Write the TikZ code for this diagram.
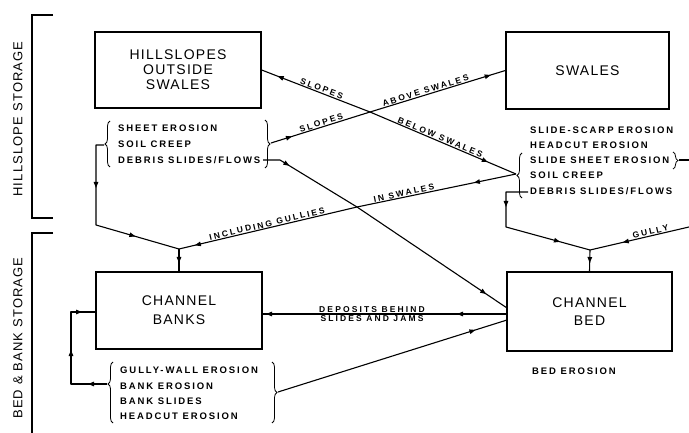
\documentclass[tikz,border=0pt]{standalone}
\usepackage{fontspec}
\setmainfont{Liberation Sans}
\newfontfamily\boxf[LetterSpace=9]{Liberation Sans}
\newfontfamily\listf[LetterSpace=20]{Liberation Sans}
\newfontfamily\labf[LetterSpace=25]{Liberation Sans}
\usetikzlibrary{arrows.meta,decorations.pathreplacing,decorations.markings}
\begin{document}
\begin{tikzpicture}[x=1pt,y=-1pt,
  box/.style={draw, line width=1.3pt, font=\boxf\fontsize{14}{15}\selectfont, align=center, inner sep=0pt},
  side/.style={font=\boxf\fontsize{13}{13}\selectfont, rotate=90, inner sep=0pt},
  item/.style={font=\listf\bfseries\fontsize{9.5}{10}\selectfont, anchor=base west, inner sep=0pt},
  lab/.style={font=\labf\bfseries\fontsize{8.5}{9}\selectfont, inner sep=1pt, sloped, above},
  flow/.style={line width=1.1pt, line join=round},
  brk/.style={line width=1.3pt},
  brc/.style={line width=0.8pt, decorate, decoration={brace, amplitude=5pt, aspect=#1}},
  brc/.default=0.5,
  arr/.style={postaction={decorate, decoration={markings, mark=at position #1 with {\arrow{Triangle[length=6pt,width=4.5pt]}}}}}
]
\useasboundingbox (0,0) rectangle (689,433);
\fill[white] (0,0) rectangle (689,433);

% storage brackets
\draw[brk] (53,15) -- (32,15) -- (32,218) -- (53,218);
\draw[brk] (53,233) -- (32,233) -- (32,433);
\node[side] (hs) at (18,119) {HILLSLOPE STORAGE};
\node[side] (bbs) at (18,338) {BED \& BANK STORAGE};

% boxes
\node[box, minimum width=166pt, minimum height=76pt] (hill) at (178,70) {HILLSLOPES\\OUTSIDE\\SWALES};
\node[box, minimum width=163pt, minimum height=77pt] (swales) at (587.5,70.5) {SWALES};
\node[box, minimum width=166pt, minimum height=77pt] (banks) at (179,310.5) {CHANNEL\\[4pt]BANKS};
\node[box, minimum width=165pt, minimum height=79pt] (bed) at (589.5,311.5) {CHANNEL\\[3pt]BED};

% lists
\node[item] (l1) at (118,131.5) {SHEET EROSION};
\node[item] (l2) at (118,147.5) {SOIL CREEP};
\node[item] (l3) at (118,163.5) {DEBRIS SLIDES/FLOWS};

\node[item] (s1) at (530,133.5) {SLIDE-SCARP EROSION};
\node[item] (s2) at (530,148.5) {HEADCUT EROSION};
\node[item] (s3) at (530,163.5) {SLIDE SHEET EROSION};
\node[item] (s4) at (530,178.5) {SOIL CREEP};
\node[item] (s5) at (530,194.5) {DEBRIS SLIDES/FLOWS};

\node[item] (b1) at (120,373.5) {GULLY-WALL EROSION};
\node[item] (b2) at (120,389.5) {BANK EROSION};
\node[item] (b3) at (120,404.5) {BANK SLIDES};
\node[item] (b4) at (120,419.5) {HEADCUT EROSION};

\node[item, anchor=center] (be) at (574,371) {BED EROSION};

% braces
\draw[brc] (110,167) -- (110,121);
\draw[brc] (265,120) -- (265,168);
\draw[brc] (522,198) -- (522,153);
\draw[brc] (673,152) -- (673,169);
\draw[brc=0.64] (113,423) -- (113,362);
\draw[brc] (272,362) -- (272,423);

% coordinates
\coordinate (lbL) at (104,145);
\coordinate (lbR) at (271,143);
\coordinate (lbD) at (263,160);
\coordinate (ST) at (516,174);
\coordinate (SS) at (679,160);
\coordinate (SD) at (528,192);
\coordinate (J1) at (370,112);
\coordinate (J2) at (357,207);
\coordinate (JB) at (179,249);
\coordinate (JD) at (590,250);
\coordinate (GR) at (689,227);
\coordinate (ER) at (689,160);
\coordinate (bbL) at (107,384);
\coordinate (bbR) at (278,392);
\coordinate (bedA) at (507,308);
\coordinate (bedB) at (507,314);
\coordinate (bedC) at (507,320);
\coordinate (bankE) at (262,314);
\coordinate (bankW) at (96,312);

% flows
\draw[flow, arr=99pt] (J1) -- (hill.east);
\draw[flow, arr=22pt, arr=230pt] (lbR) -- (J1) -- (swales.west);
\draw[flow, arr=128pt] (J1) -- (ST);
\draw[flow, arr=43pt, arr=329pt] (ST) -- (J2) -- (JB);
\draw[flow, arr=28pt, arr=263pt] (lbD) -- (280,160) -- (J2) -- (bedA);
\draw[flow, arr=51pt, arr=129pt] (lbL) -- (96,145) -- (96,225) -- (JB);
\draw[flow, arr=14pt] (JB) -- (banks.north);
\draw[flow, arr=37pt, arr=113pt] (SD) -- (506,192) -- (506,227) -- (JD);
\draw[flow, arr=68pt] (GR) -- (JD);
\draw[flow, arr=13pt] (JD) -- (bed.north);
\draw[flow] (SS) -- (ER);
\draw[flow, arr=50pt, arr=241pt] (bedB) -- (bankE);
\draw[flow, arr=207pt] (bbR) -- (bedC);
\draw[flow, arr=19pt, arr=70pt, arr=119pt] (bbL) -- (71,384) -- (71,312) -- (bankW);

% labels
\path (hill.east) -- (J1) node[lab, pos=0.54] {SLOPES};
\path (lbR) -- (J1) node[lab, pos=0.52] {SLOPES};
\path (J1) -- (swales.west) node[lab, pos=0.42] {ABOVE SWALES};
\path (J1) -- (ST) node[lab, pos=0.47] {BELOW SWALES};
\path (J2) -- (ST) node[lab, pos=0.30] {IN SWALES};
\path (JB) -- (J2) node[lab, pos=0.50] {INCLUDING GULLIES};
\path (JD) -- (GR) node[lab, pos=0.62] {GULLY};
\node[font=\labf\bfseries\fontsize{8.5}{9}\selectfont, inner sep=0pt, align=center] (dep) at (372,314.5) {DEPOSITS BEHIND\\[0pt]SLIDES AND JAMS};
\end{tikzpicture}
\end{document}
